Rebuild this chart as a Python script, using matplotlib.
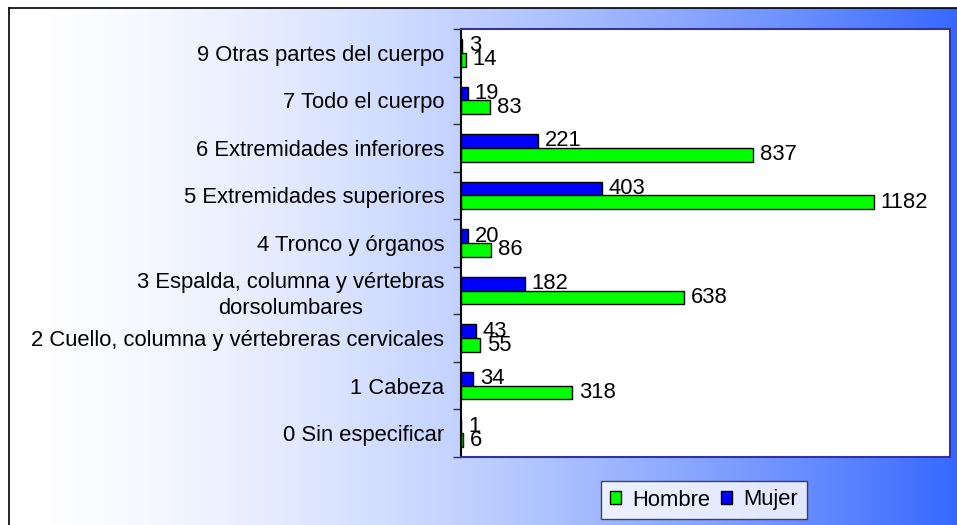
import numpy as np
import matplotlib
matplotlib.use("Agg")
import matplotlib.pyplot as plt

plt.rcParams['font.family'] = ['Liberation Sans', 'DejaVu Sans']

# categories, top to bottom
categorias = [
    "9 Otras partes del cuerpo",
    "7 Todo el cuerpo",
    "6 Extremidades inferiores",
    "5 Extremidades superiores",
    "4 Tronco y órganos",
    "3 Espalda, columna y vértebras\ndorsolumbares",
    "2 Cuello, columna y vértebreras cervicales",
    "1 Cabeza",
    "0 Sin especificar",
]
hombre = [14, 83, 837, 1182, 86, 638, 55, 318, 6]
mujer = [3, 19, 221, 403, 20, 182, 43, 34, 1]

W, H = 957, 525
fs = 15.8
fig = plt.figure(figsize=(W / 100, H / 100), dpi=100)

# background with horizontal white -> blue gradient and a frame
bg = fig.add_axes([9 / W, 0, 1, 1 - 8 / H])
t = np.linspace(0, 1, 512) ** 1.6
start = np.array([1.0, 1.0, 1.0])
end = np.array([0x33, 0x66, 0xFF]) / 255
grad = start[None, :] * (1 - t[:, None]) + end[None, :] * t[:, None]
bg.imshow(grad[None, :, :], aspect='auto', extent=[0, 1, 0, 1])
bg.set_xlim(0, 1)
bg.set_ylim(0, 1)
bg.set_xticks([])
bg.set_yticks([])
for s in ['right', 'bottom']:
    bg.spines[s].set_visible(False)
for s in ['left', 'top']:
    bg.spines[s].set_color('black')
    bg.spines[s].set_linewidth(1.2)

ax = fig.add_axes([461 / W, 1 - 457 / H, 489 / W, 428 / H])
ax.set_facecolor('white')

n = len(categorias)
y = np.arange(n)
h = 0.29
bars_m = ax.barh(y - h / 2, mujer, height=h, color='#0000FF', edgecolor='black',
                 linewidth=1.0, label='Mujer')
bars_h = ax.barh(y + h / 2, hombre, height=h, color='#00FF00', edgecolor='black',
                 linewidth=1.0, label='Hombre')

ax.bar_label(bars_m, padding=5, fontsize=fs)
ax.bar_label(bars_h, padding=5, fontsize=fs)

ax.set_xlim(0, 1400)
ax.set_ylim(n - 0.5, -0.5)
ax.set_xticks([])
ax.set_yticks(y)
ax.set_yticklabels(categorias, fontsize=fs, linespacing=1.3, multialignment='center')
ax.set_yticks(np.arange(n + 1) - 0.5, minor=True)
ax.tick_params(axis='y', which='major', length=0, pad=12)
ax.tick_params(axis='y', which='minor', length=6, width=1, color='#333333')

ax.spines['left'].set_color('black')
for s in ['top', 'right', 'bottom']:
    ax.spines[s].set_color('#333399')
for s in ax.spines.values():
    s.set_linewidth(1.5)

handles = [bars_h, bars_m]
leg = fig.legend(handles, ['Hombre', 'Mujer'], loc='center',
                 bbox_to_anchor=(704 / W, 1 - 500 / H), ncol=2, fontsize=fs,
                 frameon=True, fancybox=False, edgecolor='#222222',
                 handlelength=0.5, handleheight=0.5, handletextpad=0.5,
                 columnspacing=0.5, borderpad=0.4)
leg.get_frame().set_linewidth(1.0)

fig.savefig('out.png', dpi=100)
